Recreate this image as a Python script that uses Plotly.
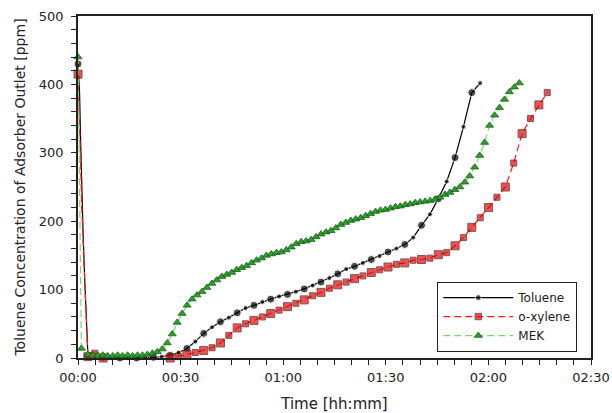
import plotly.graph_objects as go

# ---- sample times [min] ----
spike_t = [0.0, 0.45, 0.75, 1.05, 1.5, 2.0, 2.5, 2.9]
tol_t = spike_t + [round(2.45 * k, 2) for k in range(2, 49)]
tol_v = [430, 390, 320, 250, 180, 110, 40, 4,
         2, 1, 0, 0, 0, 0, 0, 1, 2, 4, 8, 14, 24, 36, 45, 53, 59, 66, 73,
         77, 82, 86, 90, 93, 97, 101, 106, 111, 117, 123, 130, 134, 139, 144,
         149, 155, 160, 166, 176, 194, 210, 233, 258, 293, 338, 388, 402]

xyl_t = spike_t + [round(2.45 * k, 2) for k in range(2, 57)]
xyl_v = [415, 355, 290, 225, 165, 100, 35, 2,
         7, 0, -2, -3, -3, -3, -3, -2, -2, 0, 2, 5, 8, 11, 15, 22, 33, 44, 50,
         55, 60, 65, 70, 75, 80, 85, 91, 96, 102, 107, 111, 116, 120, 125,
         129, 133, 137, 139, 143, 144, 146, 151, 154, 164, 176, 191, 205, 220,
         235, 250, 285, 328, 350, 370, 388]

mek_t = [0.0, 1.0] + [round(1.45 * k, 2) for k in range(2, 90)]
mek_v = [440, 14,
         5, 4, 4, 4, 3, 3, 4, 3, 4, 3, 4, 4, 5, 7, 9, 13, 22, 35, 52, 65, 77,
         86, 92, 97, 103, 109, 114, 119, 122, 125, 129, 132, 135, 139, 143,
         146, 150, 152, 154, 155, 158, 162, 167, 170, 171, 173, 177, 181, 184,
         186, 190, 195, 198, 201, 203, 205, 208, 211, 214, 216, 217, 219, 221,
         222, 224, 225, 227, 228, 229, 230, 232, 235, 239, 242, 246, 250, 257,
         266, 279, 296, 315, 340, 355, 366, 378, 389, 396, 402]

x_tickvals = [0, 30, 60, 90, 120, 150]
x_ticktext = ["00:00", "00:30", "01:00", "01:30", "02:00", "02:30"]

N_HIDDEN = 6  # start-up drop points drawn as line only


def sizes(n, big, small):
    # first point marked, steep start-up drop as a plain line,
    # then alternating marker sizes
    out = [big] + [0] * N_HIDDEN
    out += [big if i % 2 == 0 else small for i in range(n - N_HIDDEN - 1)]
    return out


FONT = "DejaVu Sans"
INK = "#222"

fig = go.Figure()
fig.add_trace(go.Scatter(
    x=tol_t, y=tol_v, name="Toluene", mode="lines+markers",
    line=dict(color="black", width=1.2),
    marker=dict(symbol="circle", color="black", size=sizes(len(tol_t), 8, 5)),
    cliponaxis=False,
))
fig.add_trace(go.Scatter(
    x=xyl_t, y=xyl_v, name="o-xylene", mode="lines+markers",
    line=dict(color="#ff1a1a", width=1.2, dash="7px,4px"),
    marker=dict(symbol="square", color="#dd0a0a", size=sizes(len(xyl_t), 8, 6),
                line=dict(color="#5c0808", width=1)),
    cliponaxis=False,
))
fig.add_trace(go.Scatter(
    x=mek_t, y=mek_v, name="MEK", mode="lines+markers",
    line=dict(color="#7fd36f", width=1.2, dash="7px,4px"),
    marker=dict(symbol="triangle-up", color="#2f9e2f", size=7,
                line=dict(color="#176017", width=0.8)),
    cliponaxis=False,
))

axis_common = dict(
    automargin=False,
    showline=True, linecolor=INK, linewidth=1.5, mirror=True,
    ticks="outside", ticklen=5, tickwidth=1.2, tickcolor=INK,
    showgrid=False, zeroline=False,
    tickfont=dict(family=FONT, size=13, color=INK),
)

fig.update_xaxes(
    range=[0, 150], tickmode="array", tickvals=x_tickvals, ticktext=x_ticktext,
    minor=dict(dtick=5, tick0=0, ticks="outside", ticklen=5, tickwidth=1.2,
               tickcolor=INK, showgrid=False),
    ticklabelstandoff=2,
    title=dict(text="Time [hh:mm]", font=dict(family=FONT, size=15, color=INK),
               standoff=16),
    **axis_common,
)
fig.update_yaxes(
    range=[0, 500], tickvals=[0, 100, 200, 300, 400, 500],
    minor=dict(dtick=20, tick0=0, ticks="outside", ticklen=5, tickwidth=1.2,
               tickcolor=INK, showgrid=False),
    ticklabelstandoff=5,
    title=dict(text="Toluene Concentration of Adsorber Outlet [ppm]",
               font=dict(family=FONT, size=14, color=INK), standoff=10),
    **axis_common,
)

fig.update_layout(
    width=612, height=413,
    margin=dict(l=78, r=21, t=16, b=55),
    plot_bgcolor="white", paper_bgcolor="white",
    legend=dict(
        x=0.70, y=0.018, xanchor="left", yanchor="bottom",
        bgcolor="white", bordercolor=INK, borderwidth=1.2,
        font=dict(family=FONT, size=12, color=INK),
        itemwidth=70, entrywidth=100, entrywidthmode="pixels",
        tracegroupgap=0,
    ),
    showlegend=True,
)

fig.write_html("out.html")
